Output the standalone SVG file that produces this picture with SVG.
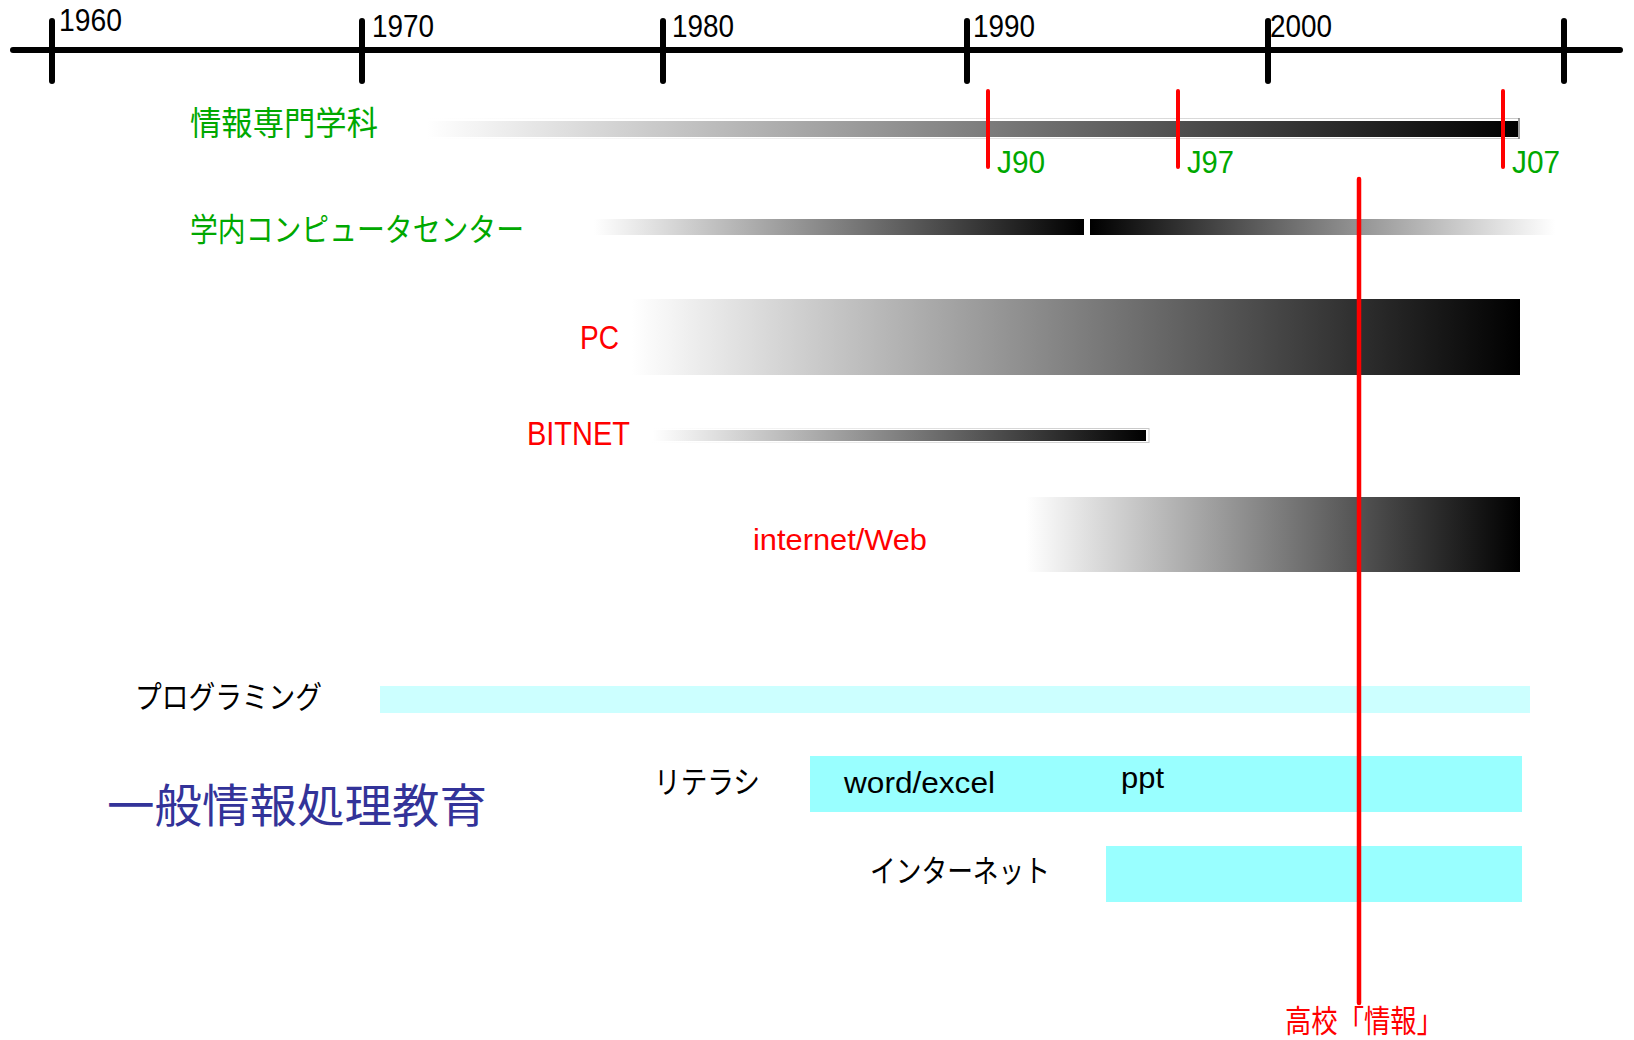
<svg xmlns="http://www.w3.org/2000/svg" width="1634" height="1040" viewBox="0 0 1634 1040">
<style>
.axis{stroke:#000;stroke-width:6;stroke-linecap:round;fill:none}
.yr{font-family:"Liberation Sans","Noto Sans CJK JP",sans-serif;font-size:31px;fill:#000}
.jp{font-family:"Noto Sans CJK JP",sans-serif}
.lat{font-family:"Liberation Sans","Noto Sans CJK JP",sans-serif}
.green{fill:#00a800}
.red{fill:#ff0000}
.blk{fill:#000}
.mark{stroke:#ff0000;stroke-width:4;stroke-linecap:round}
.frame{fill:none;stroke:url(#fr);stroke-width:1}
</style>
<defs>
<linearGradient id="wb" x1="0" y1="0" x2="1" y2="0"><stop offset="0" stop-color="#fff"/><stop offset="1" stop-color="#000"/></linearGradient>
<linearGradient id="bw" x1="0" y1="0" x2="1" y2="0"><stop offset="0" stop-color="#000"/><stop offset="1" stop-color="#fff"/></linearGradient>
<linearGradient id="fr" x1="0" y1="0" x2="1" y2="0"><stop offset="0" stop-color="#fff"/><stop offset="1" stop-color="#c8c8c8"/></linearGradient>
<linearGradient id="sh" x1="0" y1="0" x2="1" y2="0"><stop offset="0" stop-color="#fff"/><stop offset="0.5" stop-color="#777"/><stop offset="1" stop-color="#fff"/></linearGradient>
</defs>
<rect width="1634" height="1040" fill="#fff"/>

<g id="timeline">
<line class="axis" x1="13" y1="50" x2="1620" y2="50"/>
<line class="axis" x1="52" y1="21" x2="52" y2="81"/>
<line class="axis" x1="362" y1="21" x2="362" y2="81"/>
<line class="axis" x1="663" y1="21" x2="663" y2="81"/>
<line class="axis" x1="967" y1="21" x2="967" y2="81"/>
<line class="axis" x1="1268" y1="21" x2="1268" y2="81"/>
<line class="axis" x1="1564" y1="21" x2="1564" y2="81"/>
<text class="yr" x="59" y="31" textLength="63" lengthAdjust="spacingAndGlyphs">1960</text>
<text class="yr" x="372" y="37" textLength="62" lengthAdjust="spacingAndGlyphs">1970</text>
<text class="yr" x="672" y="37" textLength="62" lengthAdjust="spacingAndGlyphs">1980</text>
<text class="yr" x="973" y="37" textLength="62" lengthAdjust="spacingAndGlyphs">1990</text>
<text class="yr" x="1270" y="37" textLength="62" lengthAdjust="spacingAndGlyphs">2000</text>
</g>

<g id="senmon">
<text class="jp green" x="190" y="135" font-size="33" textLength="188" lengthAdjust="spacingAndGlyphs">情報専門学科</text>
<rect class="frame" x="426" y="118.5" width="1093" height="20"/>
<line x1="1519" y1="118" x2="1519" y2="139" stroke="#555" stroke-width="1"/>
<rect x="427" y="121" width="1091" height="16" fill="url(#wb)"/>
</g>

<g id="curricula">
<line class="mark" x1="988" y1="91" x2="988" y2="167"/>
<line class="mark" x1="1178" y1="91" x2="1178" y2="167"/>
<line class="mark" x1="1503" y1="91" x2="1503" y2="167"/>
<text class="lat green" x="997" y="173" font-size="32" textLength="48" lengthAdjust="spacingAndGlyphs">J90</text>
<text class="lat green" x="1187" y="173" font-size="32" textLength="47" lengthAdjust="spacingAndGlyphs">J97</text>
<text class="lat green" x="1512" y="173" font-size="32" textLength="48" lengthAdjust="spacingAndGlyphs">J07</text>
</g>

<g id="center">
<text class="jp green" x="190" y="241" font-size="32" textLength="334" lengthAdjust="spacingAndGlyphs">学内コンピュータセンター</text>
<line x1="594" y1="238" x2="1555" y2="238" stroke="url(#sh)" stroke-width="1.5"/>
<rect x="594" y="219" width="490" height="16" fill="url(#wb)"/>
<rect x="1090" y="219" width="465" height="16" fill="url(#bw)"/>
</g>

<g id="pc">
<text class="lat red" x="580" y="349" font-size="33" textLength="39" lengthAdjust="spacingAndGlyphs">PC</text>
<rect x="632" y="299" width="888" height="76" fill="url(#wb)"/>
</g>

<g id="bitnet">
<text class="lat red" x="527" y="445" font-size="33" textLength="103" lengthAdjust="spacingAndGlyphs">BITNET</text>
<rect class="frame" x="652" y="428.5" width="497" height="14"/>
<rect x="653" y="430" width="493" height="11" fill="url(#wb)"/>
</g>

<g id="internet-web">
<text class="lat red" x="753" y="550" font-size="30" textLength="174" lengthAdjust="spacingAndGlyphs">internet/Web</text>
<rect x="1026" y="497" width="494" height="75" fill="url(#wb)"/>
</g>

<g id="programming">
<text class="jp blk" x="135" y="708" font-size="31" textLength="187" lengthAdjust="spacingAndGlyphs">プログラミング</text>
<rect x="380" y="686" width="1150" height="27" fill="#ccffff"/>
</g>

<g id="general">
<text class="jp" x="107" y="822" font-size="46" fill="#333399" textLength="380" lengthAdjust="spacingAndGlyphs">一般情報処理教育</text>
</g>

<g id="literacy">
<text class="jp blk" x="654" y="793" font-size="31" textLength="106" lengthAdjust="spacingAndGlyphs">リテラシ</text>
<rect x="810" y="756" width="712" height="56" fill="#99ffff"/>
<text class="lat blk" x="844" y="793" font-size="29" textLength="151" lengthAdjust="spacingAndGlyphs">word/excel</text>
<text class="lat blk" x="1121" y="788" font-size="29" textLength="43" lengthAdjust="spacingAndGlyphs">ppt</text>
</g>

<g id="internet">
<text class="jp blk" x="870" y="882" font-size="31" textLength="180" lengthAdjust="spacingAndGlyphs">インターネット</text>
<rect x="1106" y="846" width="416" height="56" fill="#99ffff"/>
</g>

<g id="connectors">
<line x1="1359" y1="179" x2="1359" y2="1003" stroke="#ff0000" stroke-width="4.5" stroke-linecap="round"/>
</g>

<g id="koukou">
<text class="jp red" x="1285" y="1032" font-size="31" textLength="158" lengthAdjust="spacingAndGlyphs">高校「情報」</text>
</g>
</svg>
